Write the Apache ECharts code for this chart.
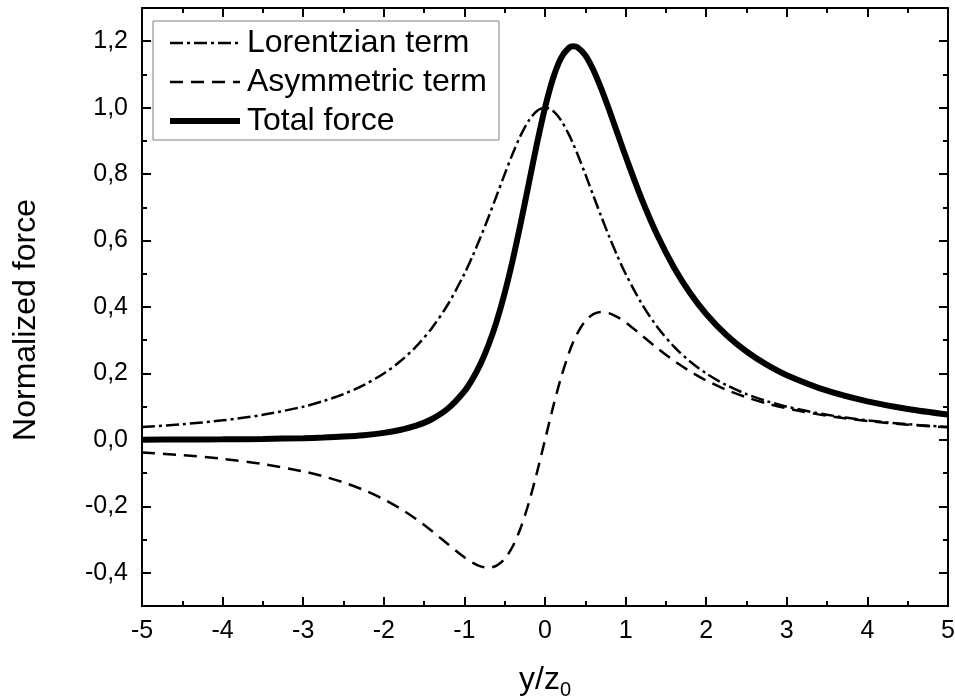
<!DOCTYPE html>
<html>
<head>
<meta charset="utf-8">
<script src="https://cdn.jsdelivr.net/npm/echarts@6/dist/echarts.min.js"></script>
<style>
html,body{margin:0;padding:0;background:#fff;}
#chart{width:955px;height:700px;}
</style>
</head>
<body>
<div id="chart"></div>
<script>
// ---- data ----
const xValues = [-5,-4.5,-4,-3.5,-3,-2.75,-2.5,-2.25,-2,-1.8,-1.6,-1.4,-1.2,-1,-0.9,-0.8,-0.7,-0.6,-0.5,-0.4,-0.3,-0.2,-0.1,0,
  0.1,0.2,0.3,0.35,0.4,0.5,0.6,0.7,0.8,0.9,1,1.2,1.4,1.6,1.8,2,2.25,2.5,2.75,3,3.5,4,4.5,5];
const lorentzian = [0.0385,0.0471,0.0588,0.0755,0.1,0.1168,0.1379,0.1649,0.2,0.2358,0.2809,0.3378,0.4098,0.5,0.5525,0.6098,0.6711,0.7353,0.8,0.8621,0.9174,0.9615,0.9901,1,
  0.9901,0.9615,0.9174,0.8909,0.8621,0.8,0.7353,0.6711,0.6098,0.5525,0.5,0.4098,0.3378,0.2809,0.2358,0.2,0.1649,0.1379,0.1168,0.1,0.0755,0.0588,0.0471,0.0385];
const asymmetric = [-0.0377,-0.0459,-0.0571,-0.0726,-0.0949,-0.1098,-0.1281,-0.1507,-0.1789,-0.2062,-0.2382,-0.2749,-0.3148,-0.3536,-0.3696,-0.3809,-0.3849,-0.3783,-0.3578,-0.3202,-0.2636,-0.1886,-0.0985,0,
  0.0985,0.1886,0.2636,0.2943,0.3202,0.3578,0.3783,0.3849,0.3809,0.3696,0.3536,0.3148,0.2749,0.2382,0.2062,0.1789,0.1507,0.1281,0.1098,0.0949,0.0726,0.0571,0.0459,0.0377];
const totalForce = [0.0007,0.0011,0.0018,0.0029,0.0051,0.0070,0.0099,0.0142,0.0211,0.0297,0.0427,0.0629,0.0950,0.1464,0.1829,0.2288,0.2863,0.3570,0.4422,0.5419,0.6538,0.7730,0.8916,1.0,
  1.0886,1.1501,1.1811,1.1852,1.1822,1.1578,1.1136,1.0560,0.9907,0.9221,0.8536,0.7247,0.6127,0.5191,0.4420,0.3789,0.3157,0.2660,0.2265,0.1949,0.1480,0.1159,0.0930,0.0762];
const seriesNames = ['Lorentzian term','Asymmetric term','Total force'];
const yMajorTicks = [-0.4,-0.2,0,0.2,0.4,0.6,0.8,1.0,1.2];

const FONT = 'Liberation Sans, Arial, sans-serif';
const pairs = ys => xValues.map((x, i) => [x, ys[i]]);
const axisLineStyle = {color:'#000', width:2};
const dashDot = [13,4,3,4];
const dashed = [13,8];

function xAxisDef(pos, labels){
  return {
    type:'value', position:pos, min:-5, max:5, interval:1,
    axisLine:{show:true, onZero:false, lineStyle:axisLineStyle},
    axisTick:{show:true, inside:true, length:9, lineStyle:axisLineStyle},
    minorTick:{show:true, splitNumber:2, length:5, lineStyle:axisLineStyle},
    splitLine:{show:false}, minorSplitLine:{show:false},
    axisLabel:{show:labels, color:'#000', fontSize:25, fontFamily:FONT, margin:13},
  };
}
function yMajorDef(pos, labels){
  return {
    type:'value', position:pos, min:-0.5, max:1.3, interval:0.1,
    axisLine:{show:true, onZero:false, lineStyle:axisLineStyle},
    axisTick:{show:true, inside:true, length:9, lineStyle:axisLineStyle, customValues:yMajorTicks},
    axisLabel:{show:labels, customValues:yMajorTicks, color:'#000', fontSize:25, fontFamily:FONT, margin:14,
      formatter: v => v.toFixed(1).replace('.', ',')},
    splitLine:{show:false}
  };
}
function yMinorDef(pos){
  return {
    type:'value', position:pos, min:-0.5, max:1.3, interval:0.1,
    axisLine:{show:false, onZero:false},
    axisTick:{show:true, inside:true, length:5, lineStyle:axisLineStyle},
    axisLabel:{show:false}, splitLine:{show:false}
  };
}

const xBottom = xAxisDef('bottom', true);
xBottom.name = '{a|y/z}{b|0}';
xBottom.nameLocation = 'middle';
xBottom.nameGap = 54;
xBottom.nameTextStyle = {
  color:'#000', fontFamily:FONT,
  rich:{
    a:{fontSize:32, fontFamily:FONT, color:'#000', lineHeight:40, verticalAlign:'middle'},
    b:{fontSize:20, fontFamily:FONT, color:'#000', lineHeight:20, verticalAlign:'bottom'}
  }
};
const yLeft = yMajorDef('left', true);
yLeft.name = 'Normalized force';
yLeft.nameLocation = 'middle';
yLeft.nameGap = 100;
yLeft.nameTextStyle = {color:'#000', fontSize:32, fontFamily:FONT, padding:[0,26,0,0]};

const chart = echarts.init(document.getElementById('chart'), null, {renderer:'canvas'});
chart.setOption({
  animation:false,
  backgroundColor:'#fff',
  grid:{left:142, right:7, top:8, bottom:94, containLabel:false, outerBoundsMode:'none'},
  xAxis:[xBottom, xAxisDef('top', false)],
  yAxis:[yLeft, yMinorDef('left'), yMajorDef('right', false), yMinorDef('right')],
  legend:{
    data:[
      {name:seriesNames[0], lineStyle:{width:2.5, type:dashDot, color:'#000'}},
      {name:seriesNames[1], lineStyle:{width:2.5, type:dashed, color:'#000'}},
      {name:seriesNames[2], lineStyle:{width:6, type:'solid', color:'#000'}}
    ],
    orient:'vertical', left:153, top:21,
    itemWidth:70, itemHeight:14, itemGap:5,
    padding:[5,12,2,14],
    itemStyle:{opacity:0},
    borderColor:'#808080', borderWidth:1, backgroundColor:'#fff',
    textStyle:{fontSize:32, color:'#000', fontFamily:FONT, lineHeight:34, padding:[0,0,0,2]}
  },
  series:[
    {name:seriesNames[0], type:'line', data:pairs(lorentzian), xAxisIndex:0, yAxisIndex:0,
      symbol:'none', smooth:0.3, lineStyle:{color:'#000', width:2.5, type:dashDot}, itemStyle:{color:'#000'}, z:2},
    {name:seriesNames[1], type:'line', data:pairs(asymmetric), xAxisIndex:0, yAxisIndex:0,
      symbol:'none', smooth:0.3, lineStyle:{color:'#000', width:2.5, type:dashed}, itemStyle:{color:'#000'}, z:2},
    {name:seriesNames[2], type:'line', data:pairs(totalForce), xAxisIndex:0, yAxisIndex:0,
      symbol:'none', smooth:0.3, lineStyle:{color:'#000', width:6}, itemStyle:{color:'#000'}, z:3}
  ]
});
</script>
</body>
</html>
